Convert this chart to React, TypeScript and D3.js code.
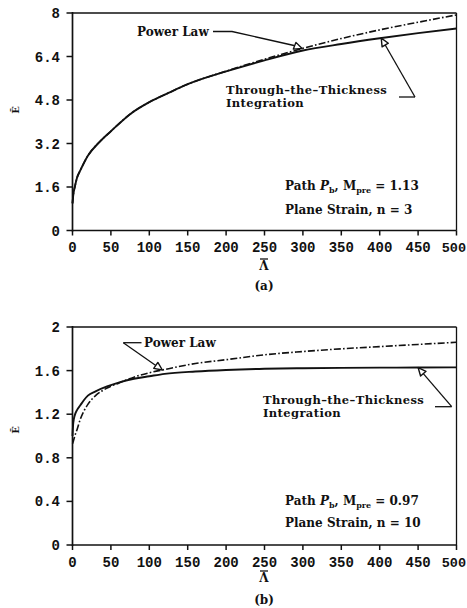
import React from 'react';
import * as d3 from 'd3';

// ---------- data ----------
const xTicks = [0, 50, 100, 150, 200, 250, 300, 350, 400, 450, 500];

const yTicksA = [0, 1.6, 3.2, 4.8, 6.4, 8];
const yTickLabelsA = ['0', '1.6', '3.2', '4.8', '6.4', '8'];
const lambdaA = [0, 1, 3, 6, 10, 20, 35, 50, 75, 100, 125, 150, 200, 250, 300, 350, 400, 450, 500];
const powerLawA = [1.0, 1.3, 1.6, 1.95, 2.2, 2.75, 3.25, 3.65, 4.28, 4.72, 5.06, 5.38, 5.86, 6.3, 6.7, 7.06, 7.38, 7.66, 7.93];
const throughA = [1.0, 1.3, 1.6, 1.95, 2.2, 2.75, 3.25, 3.65, 4.28, 4.72, 5.06, 5.38, 5.85, 6.26, 6.62, 6.86, 7.07, 7.26, 7.43];

const yTicksB = [0, 0.4, 0.8, 1.2, 1.6, 2];
const yTickLabelsB = ['0', '0.4', '0.8', '1.2', '1.6', '2'];
const lambdaB = [0, 1, 3, 6, 10, 15, 20, 30, 45, 60, 80, 100, 120, 160, 200, 250, 300, 350, 400, 450, 500];
const powerLawB = [0.93, 0.95, 1.0, 1.06, 1.15, 1.23, 1.29, 1.37, 1.44, 1.485, 1.54, 1.58, 1.61, 1.665, 1.7, 1.745, 1.775, 1.8, 1.82, 1.84, 1.86];
const throughB = [1.0, 1.12, 1.19, 1.24, 1.28, 1.33, 1.37, 1.41, 1.455, 1.49, 1.525, 1.548, 1.57, 1.592, 1.606, 1.617, 1.622, 1.625, 1.627, 1.628, 1.63];

const MONO = '"Liberation Mono", "DejaVu Sans Mono", monospace';
const SERIF = '"DejaVu Serif", "Liberation Serif", serif';

type Pt = [number, number];

function Arrow({ from, tip }: { from: Pt; tip: Pt }) {
  const dx = tip[0] - from[0];
  const dy = tip[1] - from[1];
  const len = Math.hypot(dx, dy);
  const ux = dx / len, uy = dy / len;
  const L = 8, W = 3.6;
  const bx = tip[0] - ux * L, by = tip[1] - uy * L;
  const px = -uy * W, py = ux * W;
  return (
    <g>
      <line x1={from[0]} y1={from[1]} x2={bx} y2={by} stroke="#111" strokeWidth={1.3} />
      <polygon
        points={`${tip[0]},${tip[1]} ${bx + px},${by + py} ${bx - px},${by - py}`}
        fill="#fff"
        stroke="#111"
        strokeWidth={1.4}
        strokeLinejoin="round"
      />
    </g>
  );
}

interface PanelProps {
  top: number;
  bottom: number;
  yMax: number;
  yTicks: number[];
  yTickLabels: string[];
  lambda: number[];
  power: number[];
  through: number[];
  tickLabelBaseline: number;
  lambdaLabelY: number;
  caption: string;
  captionY: number;
  eLabelY: number;
  powerText: { x: number; y: number };
  powerLeader: Pt[];
  powerTipL: number;
  throughText: { x: number; y: number; dy: number };
  throughLeader: Pt[];
  throughTipL: number;
  info: { x: number; y: number; dy: number; m: string; n: string };
}

function Panel(p: PanelProps) {
  const x = d3.scaleLinear().domain([0, 500]).range([72.5, 456.5]);
  const y = d3.scaleLinear().domain([0, p.yMax]).range([p.bottom, p.top]);
  const line = d3
    .line<number>()
    .x((_, i) => x(p.lambda[i]))
    .y((v) => y(v))
    .curve(d3.curveMonotoneX);

  const interp = (arr: number[], L: number) => {
    const i = d3.bisectLeft(p.lambda, L);
    if (i <= 0) return arr[0];
    const l0 = p.lambda[i - 1], l1 = p.lambda[i];
    const t = (L - l0) / (l1 - l0);
    return arr[i - 1] + t * (arr[i] - arr[i - 1]);
  };

  const powerTip: Pt = [x(p.powerTipL), y(interp(p.power, p.powerTipL))];
  const throughTip: Pt = [x(p.throughTipL), y(interp(p.through, p.throughTipL))];
  const pl = p.powerLeader;
  const tl = p.throughLeader;

  const x0 = x(0), x1 = x(500), y0 = y(0), y1 = y(p.yMax);

  return (
    <g>
      {/* curves */}
      <path d={line(p.through) || ''} fill="none" stroke="#111" strokeWidth={1.9} />
      <path
        d={line(p.power) || ''}
        fill="none"
        stroke="#111"
        strokeWidth={1.6}
        strokeDasharray="7,2.2,1.6,2.2"
      />
      {/* frame */}
      <line x1={x0} y1={y1} x2={x1} y2={y1} stroke="#111" strokeWidth={1.5} />
      <line x1={x1} y1={y1} x2={x1} y2={y0} stroke="#111" strokeWidth={1.3} />
      <line x1={x0} y1={y0} x2={x1} y2={y0} stroke="#111" strokeWidth={1.6} />
      <line x1={x0} y1={y1 - 1} x2={x0} y2={y0 + 1} stroke="#111" strokeWidth={1.7} />
      {/* y ticks */}
      {p.yTicks.map((t, i) => (
        <g key={'y' + i}>
          <line x1={x0 - 6} x2={x0} y1={y(t)} y2={y(t)} stroke="#111" strokeWidth={1.5} />
          <text
            x={60}
            y={y(t)}
            dy="0.36em"
            textAnchor="end"
            fontFamily={MONO}
            fontWeight="bold"
            fontSize={14}
            fill="#111"
          >
            {p.yTickLabels[i]}
          </text>
        </g>
      ))}
      {/* x ticks */}
      {xTicks.map((t) => (
        <g key={'x' + t}>
          <line x1={x(t)} x2={x(t)} y1={y0} y2={y0 + 5} stroke="#111" strokeWidth={1.5} />
          <text
            x={t === 500 ? 466 : x(t)}
            y={p.tickLabelBaseline}
            textAnchor={t === 500 ? 'end' : 'middle'}
            fontFamily={MONO}
            fontWeight="bold"
            fontSize={t === 500 ? 13.5 : 14}
            fill="#111"
          >
            {t}
          </text>
        </g>
      ))}
      {/* axis titles */}
      <text
        x={264}
        y={p.lambdaLabelY}
        textAnchor="middle"
        fontFamily={SERIF}
        fontWeight="bold"
        fontSize={12}
        fill="#111"
      >
        Λ
      </text>
      <line x1={260} x2={268} y1={p.lambdaLabelY - 11} y2={p.lambdaLabelY - 11} stroke="#111" strokeWidth={1.3} />
      <text
        transform={`translate(19,${p.eLabelY}) rotate(-90)`}
        textAnchor="middle"
        fontFamily={SERIF}
        fontWeight="bold"
        fontSize={10}
        fill="#111"
      >
        Ē
      </text>
      <text
        x={264}
        y={p.captionY}
        textAnchor="middle"
        fontFamily={SERIF}
        fontWeight="bold"
        fontSize={12}
        fill="#111"
      >
        {p.caption}
      </text>
      {/* Power law annotation */}
      <text x={p.powerText.x} y={p.powerText.y} fontFamily={SERIF} fontWeight="bold" fontSize={12} fill="#111">
        Power Law
      </text>
      <polyline
        points={pl.map((q) => q.join(',')).join(' ')}
        fill="none"
        stroke="#111"
        strokeWidth={1.3}
      />
      <Arrow from={pl[pl.length - 1]} tip={powerTip} />
      {/* Through-the-thickness annotation */}
      <text
        x={p.throughText.x}
        y={p.throughText.y}
        fontFamily={SERIF}
        fontWeight="bold"
        fontSize={11.5}
        letterSpacing={0.4}
        fill="#111"
      >
        Through–the–Thickness
      </text>
      <text
        x={p.throughText.x}
        y={p.throughText.y + p.throughText.dy}
        fontFamily={SERIF}
        fontWeight="bold"
        fontSize={11.5}
        letterSpacing={0.4}
        fill="#111"
      >
        Integration
      </text>
      <polyline points={tl.map((q) => q.join(',')).join(' ')} fill="none" stroke="#111" strokeWidth={1.3} />
      <Arrow from={tl[tl.length - 1]} tip={throughTip} />
      {/* info */}
      <text x={p.info.x} y={p.info.y} fontFamily={SERIF} fontWeight="bold" fontSize={12} fill="#111">
        Path <tspan fontStyle="italic">P</tspan>
        <tspan fontSize={8} dy={3}>b</tspan>
        <tspan dy={-3}>, M</tspan>
        <tspan fontSize={8} dy={3}>pre</tspan>
        <tspan dy={-3}> = {p.info.m}</tspan>
      </text>
      <text x={p.info.x} y={p.info.y + p.info.dy} fontFamily={SERIF} fontWeight="bold" fontSize={12} fill="#111">
        Plane Strain, n = {p.info.n}
      </text>
    </g>
  );
}

export default function App() {
  return (
    <svg
      width={467}
      height={608}
      style={{ position: 'absolute', left: 0, top: 0, background: '#fff' }}
    >
      <rect x={0} y={0} width={467} height={608} fill="#fff" />
      <Panel
        top={13}
        bottom={230.5}
        yMax={8}
        yTicks={yTicksA}
        yTickLabels={yTickLabelsA}
        lambda={lambdaA}
        power={powerLawA}
        through={throughA}
        tickLabelBaseline={252}
        lambdaLabelY={270}
        caption="(a)"
        captionY={290}
        eLabelY={110}
        powerText={{ x: 137, y: 36 }}
        powerLeader={[[213, 31.5], [232, 31.5], [294, 45.5]]}
        powerTipL={299}
        throughText={{ x: 226, y: 93.5, dy: 13 }}
        throughLeader={[[399, 97], [415, 97]]}
        throughTipL={402}
        info={{ x: 285, y: 189.5, dy: 24.5, m: '1.13', n: '3' }}
      />
      <Panel
        top={327}
        bottom={545}
        yMax={2}
        yTicks={yTicksB}
        yTickLabels={yTickLabelsB}
        lambda={lambdaB}
        power={powerLawB}
        through={throughB}
        tickLabelBaseline={567}
        lambdaLabelY={582}
        caption="(b)"
        captionY={604}
        eLabelY={430}
        powerText={{ x: 144, y: 346.5 }}
        powerLeader={[[141.5, 342.7], [123.3, 342.7]]}
        powerTipL={117}
        throughText={{ x: 263, y: 404, dy: 13 }}
        throughLeader={[[435, 406.7], [451.7, 406.7]]}
        throughTipL={450}
        info={{ x: 285, y: 505, dy: 22, m: '0.97', n: '10' }}
      />
    </svg>
  );
}
